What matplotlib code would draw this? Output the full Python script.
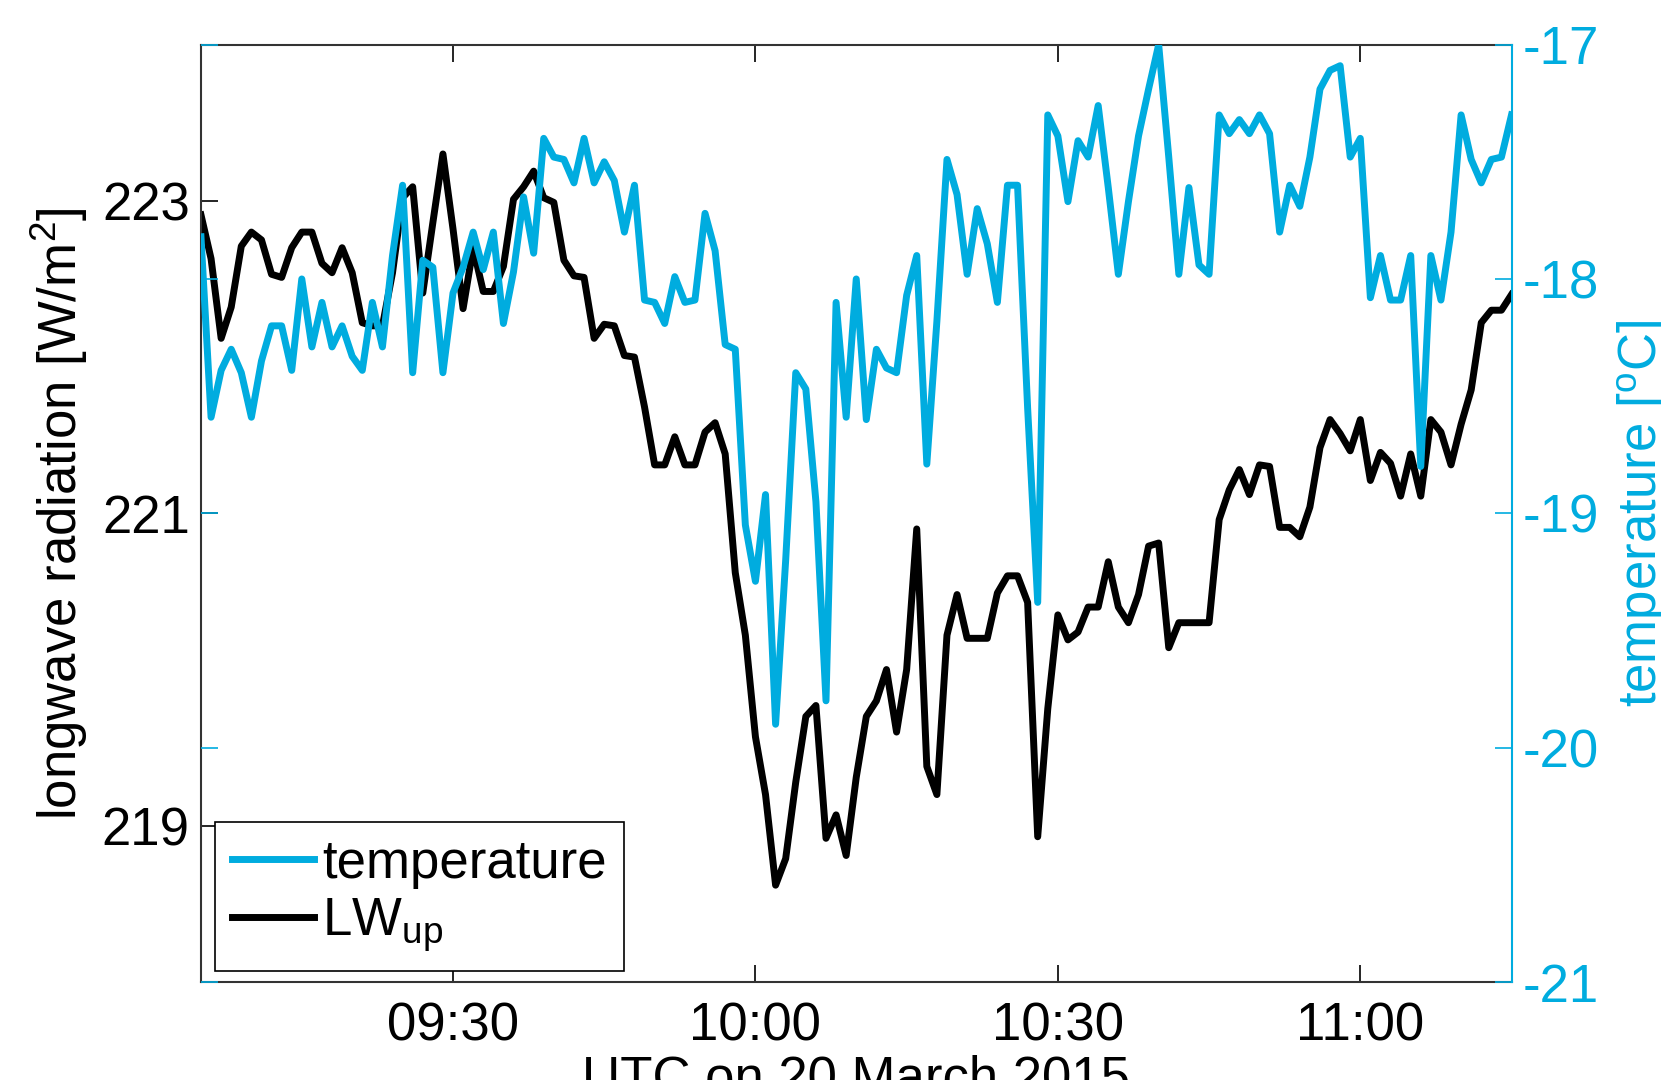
import matplotlib
matplotlib.use('Agg')
import matplotlib.pyplot as plt
import matplotlib.dates as mdates
import numpy as np
import pandas as pd

plt.rcParams['font.family'] = ['Liberation Sans', 'DejaVu Sans']
plt.rcParams['mathtext.fontset'] = 'custom'
plt.rcParams['mathtext.rm'] = 'Liberation Sans'
plt.rcParams['mathtext.it'] = 'Liberation Sans:italic'
plt.rcParams['axes.unicode_minus'] = False

BLUE = '#00acdf'
FS = 38

# one sample per minute, 09:05 - 11:15 UTC
times = pd.date_range('2015-03-20 09:05', '2015-03-20 11:15', freq='1min')

lw_up = [
    222.91, 222.63, 222.12, 222.32, 222.71, 222.80, 222.75, 222.53, 222.51, 222.70,
    222.80, 222.80, 222.60, 222.54, 222.70, 222.54, 222.22, 222.20, 222.20, 222.54,
    223.02, 223.09, 222.41, 222.86, 223.30, 222.82, 222.31, 222.70, 222.42, 222.42,
    222.58, 223.01, 223.09, 223.19, 223.02, 222.99, 222.62, 222.52, 222.51, 222.12,
    222.21, 222.20, 222.01, 222.00, 221.68, 221.31, 221.31, 221.49, 221.31, 221.31,
    221.52, 221.58, 221.38, 220.62, 220.22, 219.57, 219.20, 218.62, 218.79, 219.28,
    219.70, 219.77, 218.92, 219.07, 218.81, 219.31, 219.70, 219.80, 220.00, 219.60,
    220.00, 220.90, 219.38, 219.20, 220.22, 220.48, 220.20, 220.20, 220.20, 220.49,
    220.60, 220.60, 220.43, 218.93, 219.75, 220.35, 220.19, 220.24, 220.40, 220.40,
    220.69, 220.40, 220.30, 220.48, 220.79, 220.81, 220.14, 220.30, 220.30, 220.30,
    220.30, 220.96, 221.15, 221.28, 221.12, 221.31, 221.30, 220.91, 220.91, 220.85,
    221.04, 221.42, 221.60, 221.51, 221.40, 221.60, 221.21, 221.39, 221.32, 221.11,
    221.38, 221.11, 221.60, 221.52, 221.31, 221.57, 221.79, 222.22, 222.30, 222.30,
    222.40,
]

temperature = [
    -17.82, -18.59, -18.39, -18.30, -18.40, -18.59, -18.35, -18.20, -18.20, -18.39,
    -18.00, -18.29, -18.10, -18.29, -18.20, -18.33, -18.39, -18.10, -18.29, -17.90,
    -17.60, -18.40, -17.92, -17.95, -18.40, -18.06, -17.95, -17.80, -17.96, -17.80,
    -18.19, -17.97, -17.65, -17.89, -17.40, -17.48, -17.49, -17.59, -17.40, -17.59,
    -17.50, -17.58, -17.80, -17.60, -18.09, -18.10, -18.19, -17.99, -18.10, -18.09,
    -17.72, -17.88, -18.28, -18.30, -19.05, -19.29, -18.92, -19.90, -19.20, -18.40,
    -18.47, -18.95, -19.80, -18.10, -18.59, -18.00, -18.60, -18.30, -18.38, -18.40,
    -18.07, -17.90, -18.79, -18.18, -17.49, -17.64, -17.98, -17.70, -17.85, -18.10,
    -17.60, -17.60, -18.55, -19.38, -17.30, -17.39, -17.67, -17.41, -17.48, -17.26,
    -17.61, -17.98, -17.67, -17.39, -17.19, -17.00, -17.48, -17.98, -17.61, -17.94,
    -17.98, -17.30, -17.38, -17.32, -17.38, -17.30, -17.38, -17.80, -17.60, -17.69,
    -17.48, -17.19, -17.11, -17.09, -17.48, -17.40, -18.08, -17.90, -18.09, -18.09,
    -17.90, -18.80, -17.90, -18.09, -17.80, -17.30, -17.49, -17.59, -17.49, -17.48,
    -17.30,
]

lw_ticks = [219, 221, 223]
temp_ticks = [-21, -20, -19, -18, -17]

fig = plt.figure(figsize=(16.61, 10.80), dpi=100)
ax1 = fig.add_axes([0.121, 0.0907, 0.789, 0.868])
ax2 = ax1.twinx()

l_lw, = ax1.plot(times, lw_up, color='k', lw=5, solid_joinstyle='round')
l_t, = ax2.plot(times, temperature, color=BLUE, lw=5, solid_joinstyle='round')

ax1.set_xlim(times[0], times[-1])
ax1.set_ylim(218, 224)
ax2.set_ylim(-21, -17)
ax1.set_yticks(lw_ticks)
ax2.set_yticks(temp_ticks)

ax1.xaxis.set_major_locator(mdates.MinuteLocator(byminute=[0, 30]))
ax1.xaxis.set_major_formatter(mdates.DateFormatter('%H:%M'))

ax1.tick_params(axis='x', direction='in', top=True, length=12, width=1.2,
                labelsize=FS, pad=14)
ax1.tick_params(axis='y', direction='in', left=True, right=False, length=12,
                width=1.2, labelsize=FS, pad=8)
ax2.tick_params(axis='y', direction='in', left=True, right=True, labelleft=False,
                labelright=True, length=12, width=1.2, labelsize=FS, pad=8,
                colors=BLUE)

for s in ['left', 'bottom', 'top']:
    ax1.spines[s].set_linewidth(1.5)
    ax1.spines[s].set_color('#333333')
ax1.spines['right'].set_visible(False)
for s in ['left', 'bottom', 'top']:
    ax2.spines[s].set_visible(False)
ax2.spines['right'].set_color(BLUE)
ax2.spines['right'].set_linewidth(1.5)

ax1.set_xlabel('UTC on 20 March 2015', fontsize=FS, labelpad=2)
ax1.set_ylabel('longwave radiation [W/m$^{2}$]', fontsize=FS)
ax1.yaxis.set_label_coords(-0.085, 0.5)
ax2.set_ylabel('temperature [$^{\\mathrm{o}}$C]', fontsize=FS, color=BLUE)
ax2.yaxis.set_label_coords(1.079, 0.5)

leg = ax2.legend([l_t, l_lw], ['temperature', 'LW$_{\\mathrm{up}}$'],
                 loc='lower left', bbox_to_anchor=(0.0107, 0.0117),
                 borderaxespad=0, fontsize=FS, fancybox=False, framealpha=1,
                 edgecolor='k', handlelength=1.55, handletextpad=0.16,
                 borderpad=0.32, labelspacing=0.15)
leg.get_frame().set_linewidth(1.2)

fig.savefig('out.png', dpi=100)
